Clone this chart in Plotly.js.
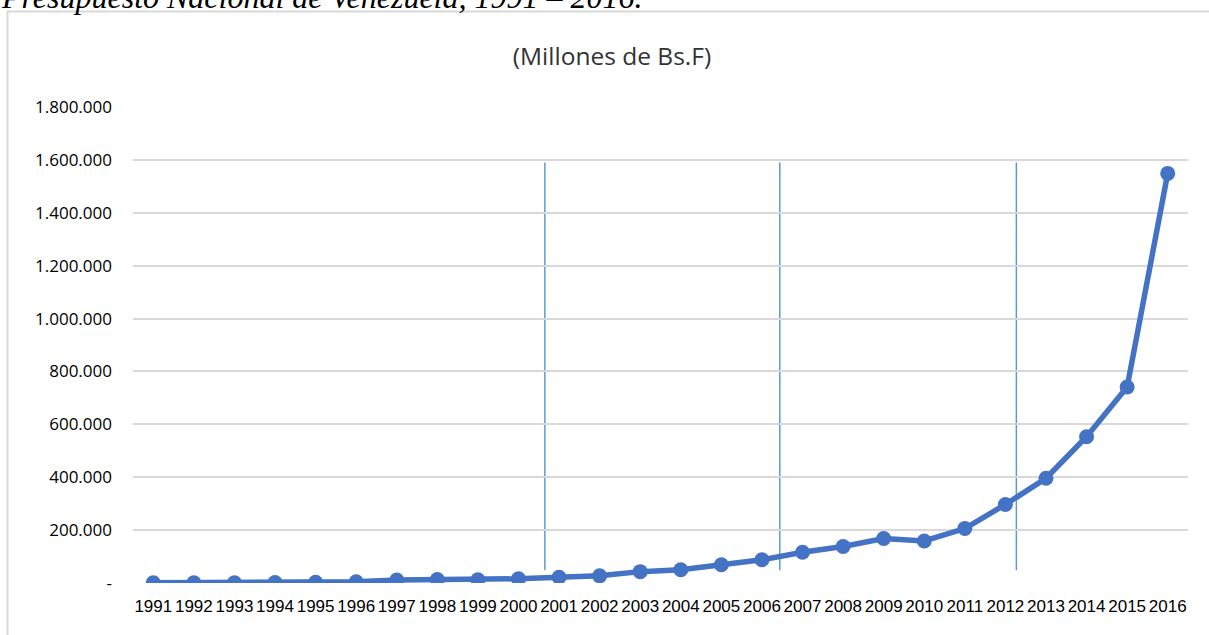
<!DOCTYPE html>
<html>
<head>
<meta charset="utf-8">
<script src="https://cdn.plot.ly/plotly-3.0.1.min.js"></script>
<style>
  html, body { margin: 0; padding: 0; background: #fff; }
  #chart { width: 1209px; height: 635px; }
</style>
</head>
<body>
<div id="chart"></div>
<script>
// ---- data ----
const years = ["1991","1992","1993","1994","1995","1996","1997","1998","1999","2000",
               "2001","2002","2003","2004","2005","2006","2007","2008","2009","2010",
               "2011","2012","2013","2014","2015","2016"];
// Presupuesto (millones de Bs.F)
const presupuesto = [600, 900, 1200, 1700, 2500, 5000, 11000, 13000, 12000, 16000,
                     22000, 27000, 43000, 50000, 69000, 88000, 116000, 138000, 168000, 159000,
                     206000, 297000, 396000, 553000, 741000, 1549000];
const yTickVals = [0, 200000, 400000, 600000, 800000, 1000000, 1200000, 1400000, 1600000, 1800000];
const yTickText = ["-", "200.000", "400.000", "600.000", "800.000", "1.000.000",
                   "1.200.000", "1.400.000", "1.600.000", "1.800.000"];
const chartTitle = "(Millones de Bs.F)";
const headerText = "Presupuesto Nacional de Venezuela, 1991 – 2016.";
// period separator lines (category-index positions)
const separatorPos = [9.65, 15.44, 21.27];

const plotL = 133, plotR = 1188, plotT = 107, plotB = 583;
const W = 1209, H = 635;
const pw = plotR - plotL, ph = plotB - plotT;
const px = v => (v - plotL) / pw;
const py = v => (plotB - v) / ph;

const shapes = separatorPos.map(p => ({
  type: "line", xref: "x", yref: "y",
  x0: p, x1: p, y0: 48000, y1: 1590000,
  line: { color: "#5B9BD5", width: 1.5 },
  layer: "below"
}));
// outer chart frame
shapes.push({
  type: "rect", xref: "paper", yref: "paper",
  x0: px(7.5), x1: px(1260), y0: py(700), y1: py(11.5),
  line: { color: "#D9D9D9", width: 2 },
  fillcolor: "rgba(0,0,0,0)"
});

const trace = {
  x: years, y: presupuesto,
  type: "scatter", mode: "lines+markers",
  line: { color: "#4472C4", width: 5.5 },
  marker: { color: "#4472C4", size: 15 },
  hoverinfo: "x+y"
};

const layout = {
  width: W, height: H,
  margin: { l: plotL, r: W - plotR, t: plotT, b: H - plotB, pad: 0 },
  paper_bgcolor: "#ffffff", plot_bgcolor: "#ffffff",
  showlegend: false,
  title: {
    text: chartTitle,
    x: 612 / W, xref: "container", xanchor: "center",
    y: 1 - 56 / H, yref: "container", yanchor: "middle",
    font: { family: "Open Sans, Lato, sans-serif", size: 24.5, color: "#333333" }
  },
  xaxis: {
    type: "category",
    range: [-0.5, 25.5],
    showgrid: false, zeroline: false, showline: false,
    ticks: "", ticklabelstandoff: 11,
    tickfont: { family: "Liberation Sans Narrow, Arial Narrow, sans-serif", size: 17, color: "#000" },
    fixedrange: true
  },
  yaxis: {
    range: [0, 1800000],
    tickvals: yTickVals, ticktext: yTickText,
    showgrid: true, gridcolor: "#D9D9D9", gridwidth: 2,
    zeroline: false, showline: false,
    ticks: "", ticklabelstandoff: 20,
    tickfont: { family: "Open Sans, Lato, sans-serif", size: 17, color: "#000" },
    fixedrange: true
  },
  shapes: shapes,
  annotations: [{
    text: "<i>" + headerText + "</i>",
    xref: "paper", yref: "paper",
    x: px(-1), xanchor: "left",
    y: py(17), yanchor: "bottom",
    showarrow: false,
    font: { family: "Liberation Serif, Times New Roman, serif", size: 32, color: "#000" }
  }],
  font: { family: "Open Sans, sans-serif" }
};

Plotly.newPlot("chart", [trace], layout, { displayModeBar: false, staticPlot: true });
</script>
</body>
</html>
